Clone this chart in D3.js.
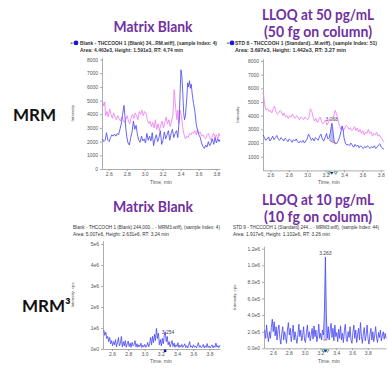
<!DOCTYPE html>
<html>
<head>
<meta charset="utf-8">
<script src="https://cdn.jsdelivr.net/npm/d3@7"></script>
<style>
  body { margin: 0; background: #fff; }
  svg { display: block; }
  .tick text { font-family: "Liberation Sans", Arial, sans-serif; font-size: 5px; fill: #555; }
  .tick line, .domain { stroke: #8a8a8a; stroke-width: 0.7; }
</style>
</head>
<body>
<svg id="chart" width="388" height="369"></svg>
<script>
// ---- data ----
// MRM, matrix blank: [time min, intensity cps]
const mrmBlankBlue = [[2.53,2200],[2.545,2000],[2.56,2100],[2.575,2650],[2.59,2100],[2.605,2000],[2.62,2300],[2.635,2500],[2.65,2400],[2.665,2550],[2.68,2400],[2.695,2600],[2.71,2500],[2.725,2900],[2.74,3300],[2.755,4000],[2.77,4650],[2.78,3900],[2.79,3000],[2.80,2400],[2.815,1900],[2.83,1750],[2.845,2300],[2.86,2700],[2.875,3500],[2.89,2900],[2.905,3200],[2.92,2500],[2.935,2100],[2.95,1950],[2.965,2400],[2.98,2050],[2.995,2200],[3.01,1900],[3.025,2600],[3.04,2100],[3.055,2400],[3.07,2050],[3.085,2650],[3.10,1700],[3.115,2200],[3.13,2500],[3.145,2000],[3.16,2300],[3.175,2800],[3.19,1800],[3.205,2100],[3.22,2700],[3.235,2200],[3.25,2500],[3.265,2800],[3.28,2100],[3.295,2600],[3.31,2900],[3.325,2300],[3.34,2600],[3.355,2800],[3.37,2300],[3.385,3500],[3.395,5500],[3.405,7250],[3.415,6800],[3.425,5600],[3.435,4100],[3.445,3600],[3.455,3900],[3.47,5200],[3.48,6300],[3.49,6000],[3.50,6450],[3.51,5900],[3.52,6200],[3.53,5500],[3.545,4800],[3.56,4200],[3.575,3300],[3.59,2800],[3.605,2500],[3.62,2300],[3.635,1900],[3.65,1650],[3.665,1500],[3.68,1750],[3.695,1600],[3.71,2000],[3.725,1700],[3.74,1900],[3.755,2200],[3.77,1800],[3.785,2300],[3.80,1900],[3.815,2200],[3.83,2000],[3.84,2150]];
const mrmBlankPink = [[2.53,5000],[2.545,4600],[2.555,4900],[2.565,3900],[2.58,4200],[2.595,3800],[2.61,4400],[2.625,4000],[2.64,3700],[2.655,4100],[2.67,3800],[2.685,3600],[2.70,3900],[2.715,3700],[2.73,3500],[2.745,3800],[2.76,3600],[2.775,3400],[2.79,3600],[2.805,3900],[2.82,3500],[2.835,3300],[2.85,3800],[2.865,4000],[2.88,3700],[2.895,4100],[2.91,3900],[2.925,3600],[2.94,4200],[2.955,4000],[2.97,4300],[2.985,3900],[3.00,4200],[3.015,4100],[3.03,3600],[3.045,3300],[3.06,3500],[3.075,3100],[3.09,3400],[3.105,3000],[3.12,3600],[3.135,2900],[3.15,3300],[3.165,2800],[3.18,3200],[3.195,3500],[3.21,3000],[3.225,3400],[3.24,3800],[3.255,3300],[3.27,3600],[3.285,3100],[3.30,3500],[3.315,3900],[3.33,5800],[3.345,4500],[3.36,3600],[3.37,4300],[3.38,3300],[3.395,4300],[3.41,3900],[3.425,3000],[3.44,2500],[3.455,2200],[3.47,2400],[3.485,2300],[3.50,2600],[3.515,2500],[3.53,2700],[3.545,2600],[3.56,2800],[3.575,2500],[3.59,2900],[3.605,2600],[3.62,2700],[3.635,2400],[3.65,2500],[3.665,2300],[3.68,2200],[3.695,2500],[3.71,2600],[3.725,2300],[3.74,2100],[3.755,2400],[3.77,2600],[3.785,2300],[3.80,2500],[3.815,2200],[3.83,2600],[3.84,2400]];

// MRM, LLOQ 50 pg/mL
const mrmLloqBlue = [[2.52,2600],[2.535,2400],[2.55,2200],[2.565,2300],[2.58,2450],[2.595,2150],[2.61,2300],[2.625,2500],[2.64,2250],[2.655,2400],[2.67,2550],[2.685,2300],[2.70,2200],[2.715,2400],[2.73,2300],[2.745,2150],[2.76,2350],[2.775,2250],[2.79,2100],[2.805,2300],[2.82,2200],[2.835,2050],[2.85,2250],[2.865,2150],[2.88,2300],[2.895,2100],[2.91,2000],[2.925,2150],[2.94,2050],[2.955,2200],[2.97,2000],[2.985,2150],[3.00,2300],[3.015,2650],[3.03,2450],[3.045,2200],[3.06,2350],[3.075,2150],[3.09,2400],[3.105,2300],[3.12,2200],[3.135,2500],[3.15,2650],[3.165,2300],[3.18,2150],[3.195,2400],[3.21,2700],[3.225,2300],[3.24,2400],[3.25,2700],[3.26,3100],[3.268,3450],[3.275,3200],[3.285,2600],[3.295,2100],[3.31,1950],[3.325,2000],[3.34,2200],[3.355,2500],[3.37,2900],[3.38,3250],[3.39,3000],[3.40,2400],[3.415,2000],[3.43,1850],[3.445,1900],[3.46,1800],[3.475,2000],[3.49,1850],[3.505,1700],[3.52,1900],[3.535,1750],[3.55,1850],[3.565,1650],[3.58,1800],[3.595,1700],[3.61,1600],[3.625,1750],[3.64,1650],[3.655,1800],[3.67,1700],[3.685,1600],[3.70,1750],[3.715,1650],[3.73,1800],[3.745,1600],[3.76,1700],[3.775,1850],[3.79,1950],[3.805,1700],[3.82,1600],[3.835,1550]];
const mrmLloqPink = [[2.52,5700],[2.53,5300],[2.54,4700],[2.555,4400],[2.57,4500],[2.585,4300],[2.60,4400],[2.615,4200],[2.63,4500],[2.645,4700],[2.66,4300],[2.675,4100],[2.69,4200],[2.705,4400],[2.72,4300],[2.735,4000],[2.75,4200],[2.765,3900],[2.78,4000],[2.795,3800],[2.81,4000],[2.825,3900],[2.84,4100],[2.855,3900],[2.87,3800],[2.885,4000],[2.90,3900],[2.915,3700],[2.93,3900],[2.945,3800],[2.96,3700],[2.975,3900],[2.99,3800],[3.005,3700],[3.02,3900],[3.035,4500],[3.05,4300],[3.065,3900],[3.08,3600],[3.095,3800],[3.11,3500],[3.125,3700],[3.14,3900],[3.155,3600],[3.17,3400],[3.185,3500],[3.20,3700],[3.215,3300],[3.23,3500],[3.245,3800],[3.26,3600],[3.275,3700],[3.29,4000],[3.305,4400],[3.32,4100],[3.335,3700],[3.35,3300],[3.365,3000],[3.38,3200],[3.395,2900],[3.41,3100],[3.425,3300],[3.44,3200],[3.455,3000],[3.47,3100],[3.485,2900],[3.50,3000],[3.515,3200],[3.53,2900],[3.545,3100],[3.56,2800],[3.575,3000],[3.59,2700],[3.605,2900],[3.62,2600],[3.635,2800],[3.65,2700],[3.665,3000],[3.68,2700],[3.695,2800],[3.71,2500],[3.725,2700],[3.74,2600],[3.755,2800],[3.77,2500],[3.785,2600],[3.80,2400],[3.815,2300],[3.83,2100]];
const mrmLloqPeak = { start: 3.24, end: 3.31, rt: 3.268, baseStart: 2200, baseEnd: 1950 };

// MRM3 traces, sampled every 0.012 min, values in 1e5 cps
const mrm3Step = 0.012;
const mrm3BlankStart = 2.50;
const mrm3Blank = [9.0,6.5,8.0,5.0,6.0,3.5,5.5,2.5,4.0,1.5,3.5,2.0,4.5,1.0,3.0,5.5,1.5,2.5,6.0,1.0,3.5,1.5,4.0,0.8,2.5,3.8,1.2,2.8,0.8,3.2,1.5,2.0,4.0,1.0,2.5,0.8,2.0,1.2,2.8,0.7,1.8,1.0,2.2,0.8,1.5,3.2,1.0,2.5,5.5,2.0,6.0,3.0,7.0,4.0,9.8,5.0,7.5,2.0,4.5,1.5,5.0,2.5,6.5,8.2,3.5,6.0,2.0,3.5,1.0,2.5,4.0,1.2,2.8,0.8,2.0,1.2,3.0,0.7,1.8,0.9,2.2,0.8,1.5,2.5,0.7,1.6,0.5,1.8,3.5,0.8,1.5,0.6,2.0,0.9,1.4,0.5,1.8,3.0,0.8,1.6,0.6,1.2,2.2,0.5,1.5,0.8,2.6,0.7,1.4,0.5,1.2,2.0,0.6,1.5,0.8,2.8,0.9,1.6,0.6,1.8];
const mrm3LloqStart = 2.495;
const mrm3Lloq = [2.2,1.2,2.8,1.5,0.8,2.0,1.2,2.5,3.5,2.0,3.2,1.5,2.6,1.0,2.2,2.8,1.2,0.5,1.8,2.6,1.0,2.0,1.4,0.6,2.2,3.1,1.6,2.4,0.8,1.8,2.8,1.0,2.0,1.2,0.6,1.6,2.9,1.4,2.2,0.9,1.5,2.6,1.0,0.7,1.9,2.8,1.3,2.0,0.9,1.6,2.4,1.1,2.7,1.4,2.2,0.8,1.5,2.9,1.2,1.8,1.0,2.2,1.6,4.5,11.0,4.0,1.2,2.6,1.0,2.2,3.0,1.3,2.4,0.9,2.8,1.4,1.9,0.8,2.3,1.2,2.7,1.0,1.8,0.7,2.1,2.9,1.1,0.8,2.0,1.3,2.6,1.0,0.6,1.9,2.8,1.2,2.2,0.7,1.6,2.4,1.0,3.1,1.4,0.6,1.8,2.5,0.9,1.6,2.8,1.1,0.5,1.7,2.4,1.0,2.0,0.8,1.6,2.6,1.2,0.7,1.9,1.3,2.2,0.9,1.5,2.0,1.1,1.8,1.2];
const mrm3LloqPeak = { start: 3.239, end: 3.287, rt: 3.263, baseStart: 1.0, baseEnd: 1.0 };

const timeTicks = [2.6, 2.8, 3.0, 3.2, 3.4, 3.6, 3.8];
const mrmTicks = [0, 1000, 2000, 3000, 4000, 5000, 6000, 7000, 8000];
const mrm3BlankTicks = [0, 10, 20, 30, 40, 50];
const mrm3LloqTicks = [0, 2, 4, 6, 8, 10, 12];

const rowLabels = ["MRM", "MRM³"];
const titles = [["Matrix Blank"], ["LLOQ at 50 pg/mL", "(50 fg on column)"], ["Matrix Blank"], ["LLOQ at 10 pg/mL", "(10 fg on column)"]];
const headers = [
  ["Blank - THCCOOH 1 (Blank) 34...RM.wiff), (sample Index: 4)", "Area: 4.463e3, Height: 1.591e3, RT: 4.74 min"],
  ["STD 8 - THCCOOH 1 (Standard)...M.wiff), (sample Index: 51)", "Area: 3.697e3, Height: 1.442e3, RT: 3.27 min"],
  ["Blank - THCCOOH 1 (Blank) 244,000... - MRM3.wiff), (sample Index: 4)", "Area: 5.007e6, Height: 2.631e6, RT: 3.24 min"],
  ["STD 9 - THCCOOH 1 (Standard) 244... - MRM3.wiff), (sample Index: 44)", "Area: 1.917e6, Height: 1.102e6, RT: 3.26 min"]
];

const BLUE = "#4b4bf5", PINK = "#f27df2", PURPLE = "#7030a0";
const svg = d3.select("#chart");

const toSeries = (start, vals) => vals.map((v, i) => [start + i * mrm3Step, v]);
const fmtMrm3 = d => d === 0 ? "0e0" : (d / 10) + "e6";
const fmtMrm3b = d => (d * 1e5).toExponential(1).replace("+", "");

const panels = [
  { title: titles[0], titleW: [79], titleX: 153, titleY: [32], head: headers[0], headX: 80, headW: [137, 103], headY: [44.5, 51.5], bold: true, star: 70, dot: 76,
    xd: [2.525, 3.84], xr: [102, 220], yd: [0, 8150], yr: [169, 57.5], ticks: mrmTicks, fmt: d3.format("d"),
    ylab: "Intensity", ylx: 74, lines: [[mrmBlankPink, PINK], [mrmBlankBlue, BLUE]], xlab: 161, xlabY: 183.5 },
  { title: titles[1], titleW: [112, 108], titleX: 318, titleY: [20, 36.5], head: headers[1], headX: 235, headW: [142, 111], headY: [44.5, 51.5], bold: true, star: 226.5, dot: 232,
    xd: [2.52, 3.835], xr: [263, 384], yd: [0, 8150], yr: [170.4, 58.9], ticks: mrmTicks.slice(1), fmt: d3.format("d"),
    ylab: "Intensity", ylx: 239, lines: [[mrmLloqPink, PINK], [mrmLloqBlue, BLUE]], peak: [mrmLloqBlue, mrmLloqPeak, "3.268"], xlab: 329, xlabY: 183.5 },
  { title: titles[2], titleW: [80], titleX: 153, titleY: [212], head: headers[2], headX: 73, headW: [147, 96], headY: [229, 236], bold: false,
    xd: [2.49, 3.93], xr: [103, 220], yd: [0, 51.5], yr: [349, 240.8], ticks: mrm3BlankTicks, fmt: fmtMrm3,
    ylab: "Intensity, cps", ylx: 74, lines: [[toSeries(mrm3BlankStart, mrm3Blank), BLUE]], mark: [3.254, "3.254", 6.2], xlab: 161, xlabY: 363 },
  { title: titles[3], titleW: [112, 108], titleX: 318, titleY: [205, 221.5], head: headers[3], headX: 233, headW: [146, 97], headY: [229, 236], bold: false,
    xd: [2.486, 4.03], xr: [264, 386], yd: [0, 12.3], yr: [348.3, 246.2], ticks: mrm3LloqTicks, fmt: fmtMrm3b,
    ylab: "Intensity, cps", ylx: 236, lines: [[toSeries(mrm3LloqStart, mrm3Lloq), BLUE]], peak: [toSeries(mrm3LloqStart, mrm3Lloq), mrm3LloqPeak, "3.263"], xlab: 329, xlabY: 363 }
];

panels.forEach(p => {
  const g = svg.append("g");
  const x = d3.scaleLinear().domain(p.xd).range(p.xr);
  const y = d3.scaleLinear().domain(p.yd).range(p.yr);

  // titles
  p.title.forEach((t, i) => g.append("text")
    .attr("x", p.titleX).attr("y", p.titleY[i]).attr("text-anchor", "middle")
    .attr("font-family", "Lato, 'Open Sans', sans-serif").attr("font-weight", "bold")
    .attr("font-size", 15).attr("fill", PURPLE)
    .attr("textLength", p.titleW[i]).attr("lengthAdjust", "spacingAndGlyphs").text(t));

  // header lines
  p.head.forEach((t, i) => g.append("text")
    .attr("x", p.headX).attr("y", p.headY[i])
    .attr("font-family", "'Liberation Sans', Arial, sans-serif").attr("font-size", 4.6)
    .attr("font-weight", p.bold ? "bold" : "normal").attr("fill", "#333")
    .attr("textLength", p.headW[i]).attr("lengthAdjust", "spacingAndGlyphs").text(t));
  if (p.star) {
    g.append("text").attr("x", p.star).attr("y", p.headY[0] + 1).attr("font-size", 6).attr("fill", "#333").text("*");
    g.append("circle").attr("cx", p.dot).attr("cy", p.headY[0] - 1.6).attr("r", 2.4).attr("fill", "#1a1ad6");
  }

  // axes
  g.append("g").attr("transform", `translate(0,${p.yr[0]})`)
    .call(d3.axisBottom(x).tickValues(timeTicks).tickSize(2).tickSizeOuter(0).tickPadding(1.5).tickFormat(d3.format(".1f")));
  g.append("g").attr("transform", `translate(${p.xr[0]},0)`)
    .call(d3.axisLeft(y).tickValues(p.ticks).tickSize(2).tickSizeOuter(0).tickPadding(2).tickFormat(p.fmt));

  g.append("text").attr("x", p.xlab).attr("y", p.xlabY).attr("text-anchor", "middle")
    .attr("font-family", "'Liberation Sans', Arial, sans-serif").attr("font-size", 5).attr("fill", "#555").text("Time, min");
  const ym = (p.yr[0] + p.yr[1]) / 2;
  g.append("text").attr("transform", `translate(${p.ylx},${ym}) rotate(-90)`).attr("text-anchor", "middle")
    .attr("font-family", "'Liberation Sans', Arial, sans-serif").attr("font-size", 4.4).attr("fill", "#555").text(p.ylab);

  // peak fill under integrated peak
  if (p.peak) {
    const [series, pk, lab] = p.peak;
    const base = t => pk.baseStart + (pk.baseEnd - pk.baseStart) * (t - pk.start) / (pk.end - pk.start);
    const seg = series.filter(d => d[0] >= pk.start - 1e-6 && d[0] <= pk.end + 1e-6);
    g.append("path").datum(seg)
      .attr("d", d3.area().x(d => x(d[0])).y0(d => y(base(d[0]))).y1(d => y(d[1])))
      .attr("fill", "#b4b8ff").attr("opacity", 0.9);
    g.append("line").attr("x1", x(pk.start)).attr("x2", x(pk.end))
      .attr("y1", y(pk.baseStart)).attr("y2", y(pk.baseEnd)).attr("stroke", "#e04848").attr("stroke-width", 0.8);
    const apex = d3.greatest(seg, d => d[1]);
    g.append("text").attr("x", x(pk.rt)).attr("y", y(apex[1]) - 2).attr("text-anchor", "middle")
      .attr("font-family", "'Liberation Sans', Arial, sans-serif").attr("font-size", 5).attr("fill", "#444").text(lab);
    const my = p.yr[0] + 1.5;
    [pk.start, pk.end].forEach(t => g.append("path")
      .attr("d", `M${x(t) - 1.6},${my} L${x(t) + 1.6},${my} L${x(t)},${my + 2.6} Z`)
      .attr("fill", "none").attr("stroke", "#2e8b57").attr("stroke-width", 0.7));
    g.append("path").attr("d", `M${x(pk.rt) - 1.6},${my} L${x(pk.rt) + 1.6},${my} L${x(pk.rt)},${my + 2.8} Z`).attr("fill", "#1a1ad6");
  }

  // traces
  const line = d3.line().x(d => x(d[0])).y(d => y(d[1]));
  p.lines.forEach(([data, col]) => g.append("path").datum(data)
    .attr("d", line).attr("fill", "none").attr("stroke", col).attr("stroke-width", 0.85));

  if (p.mark) {
    const [t, lab, v] = p.mark;
    g.append("text").attr("x", x(t) + 3).attr("y", y(v) - 1.5).attr("text-anchor", "middle")
      .attr("font-family", "'Liberation Sans', Arial, sans-serif").attr("font-size", 5).attr("fill", "#444").text(lab);
    g.append("rect").attr("x", x(t) - 1.3).attr("y", p.yr[0] + 0.5).attr("width", 2.6).attr("height", 2.6).attr("fill", "#1a1a80");
  }
});

// row labels
svg.selectAll("text.row").data(rowLabels).join("text")
  .attr("class", "row")
  .attr("x", (d, i) => i === 0 ? 13 : 22).attr("y", (d, i) => i === 0 ? 121 : 312)
  .attr("font-family", "Lato, 'Open Sans', sans-serif").attr("font-weight", "bold")
  .attr("font-size", 17).attr("fill", "#111").text(d => d);
</script>
</body>
</html>
